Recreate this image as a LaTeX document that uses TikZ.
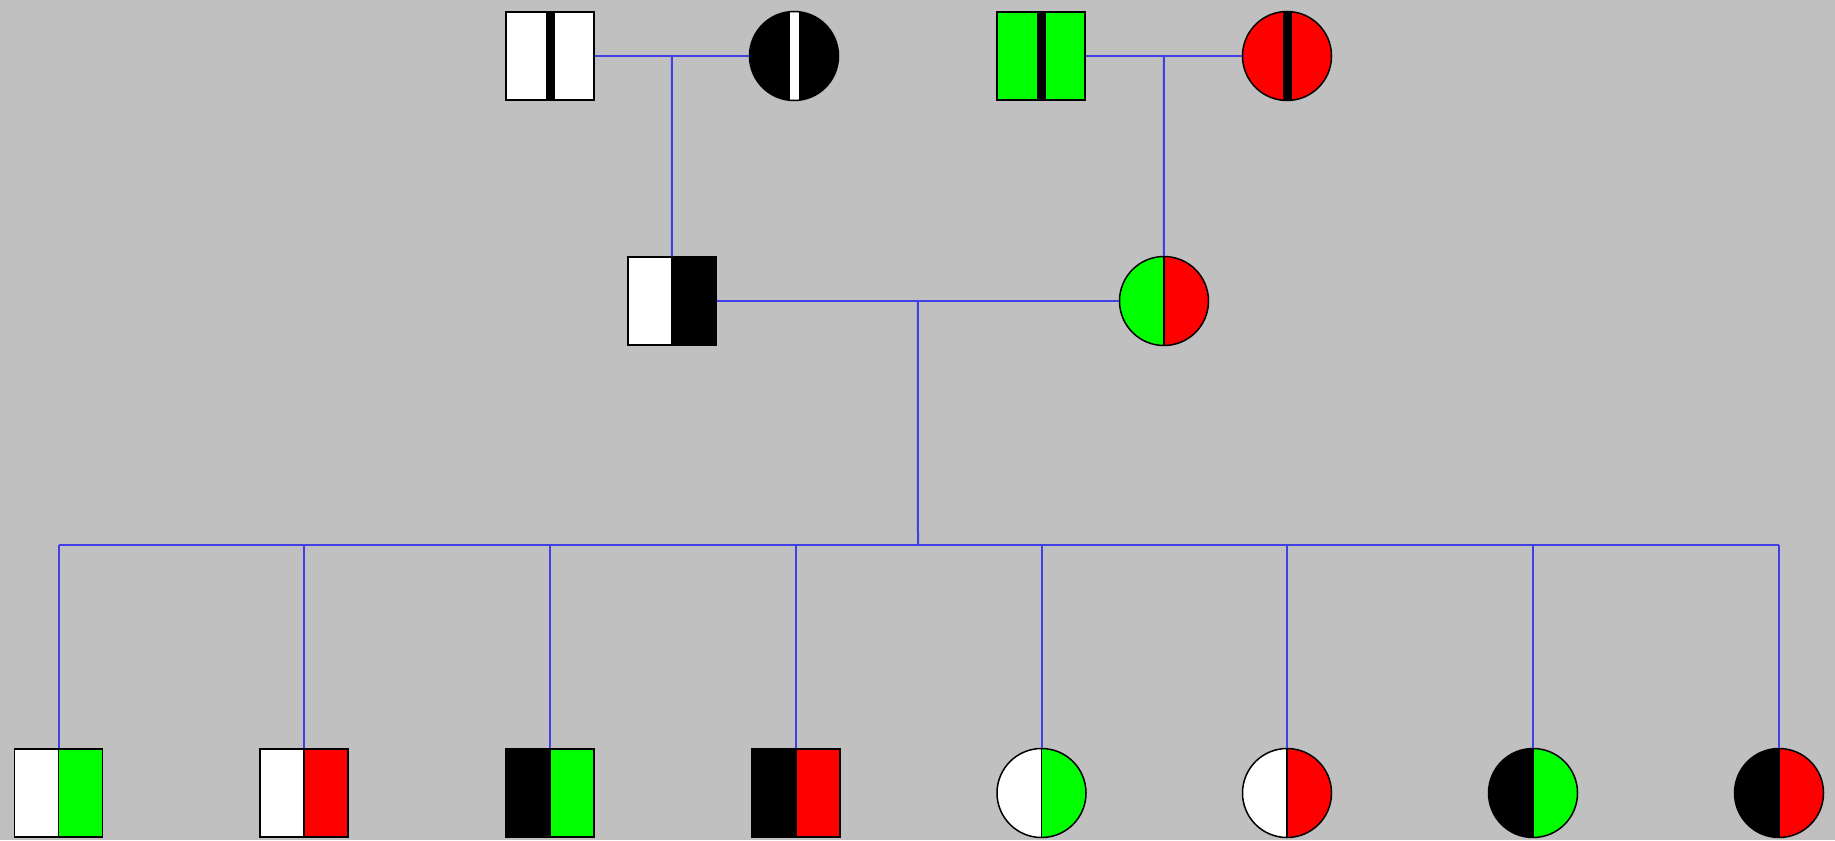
\documentclass[tikz,border=0pt]{standalone}
\usepackage{tikz}
\usetikzlibrary{positioning}
\definecolor{bgray}{RGB}{192,192,192}
\definecolor{lineblue}{RGB}{64,64,230}
\definecolor{pgreen}{RGB}{0,255,0}
\definecolor{pred}{RGB}{255,0,0}
\tikzset{
  male/.style={draw=black, line width=1.5pt, rectangle, minimum size=88pt, inner sep=0pt},
  female/.style={draw=black, line width=1.5pt, circle, minimum size=89pt, inner sep=0pt},
  halves/.style 2 args={path picture={
    \fill[#1] (path picture bounding box.south west) rectangle (path picture bounding box.north);
    \fill[#2] (path picture bounding box.south) rectangle (path picture bounding box.north east);
    \draw[black, line width=1.2pt] (path picture bounding box.south) -- (path picture bounding box.north);}},
  stripe/.style 2 args={fill=#1, path picture={
    \fill[#2] ([xshift=-4.5pt]path picture bounding box.south) rectangle ([xshift=4.5pt]path picture bounding box.north);}},
  link/.style={draw=lineblue, line width=2pt},
}
\begin{document}
\begin{tikzpicture}[x=1pt,y=-1pt]
\path[use as bounding box, fill=bgray] (0,0) rectangle (1835,840);
% Grandparents
\node[male, stripe={white}{black}] (gfa) at (550,56) {};
\node[female, stripe={black}{white}] (gma) at (794,56) {};
\node[male, stripe={pgreen}{black}] (gfb) at (1041,56) {};
\node[female, stripe={pred}{black}] (gmb) at (1287,56) {};
% Parents
\node[male, halves={white}{black}] (father) at (672,301) {};
\node[female, halves={pgreen}{pred}] (mother) at (1164,301) {};
% Marriage lines
\draw[link] (gfa) -- (gma) coordinate[midway] (ma);
\draw[link] (gfb) -- (gmb) coordinate[midway] (mb);
\draw[link] (father) -- (mother) coordinate[midway] (mc);
% Descent lines
\draw[link] (ma) -- (father);
\draw[link] (mb) -- (mother);
\coordinate (sib) at (918,545);
\draw[link] (mc) -- (sib);
% Children
\foreach \name/\x/\kind/\left/\right in {
  ca/58.5/male/white/pgreen, cb/304/male/white/pred,
  cc/550/male/black/pgreen, cd/796/male/black/pred,
  ce/1041.5/female/white/pgreen, cf/1287/female/white/pred,
  cg/1533/female/black/pgreen, ch/1779/female/black/pred}
{
  \node[\kind, halves={\left}{\right}] (\name) at (\x,793) {};
  \draw[link] (\name |- sib) -- (\name);
}
% Sibship line
\draw[link] (ca |- sib) -- (ch |- sib);
\end{tikzpicture}
\end{document}
